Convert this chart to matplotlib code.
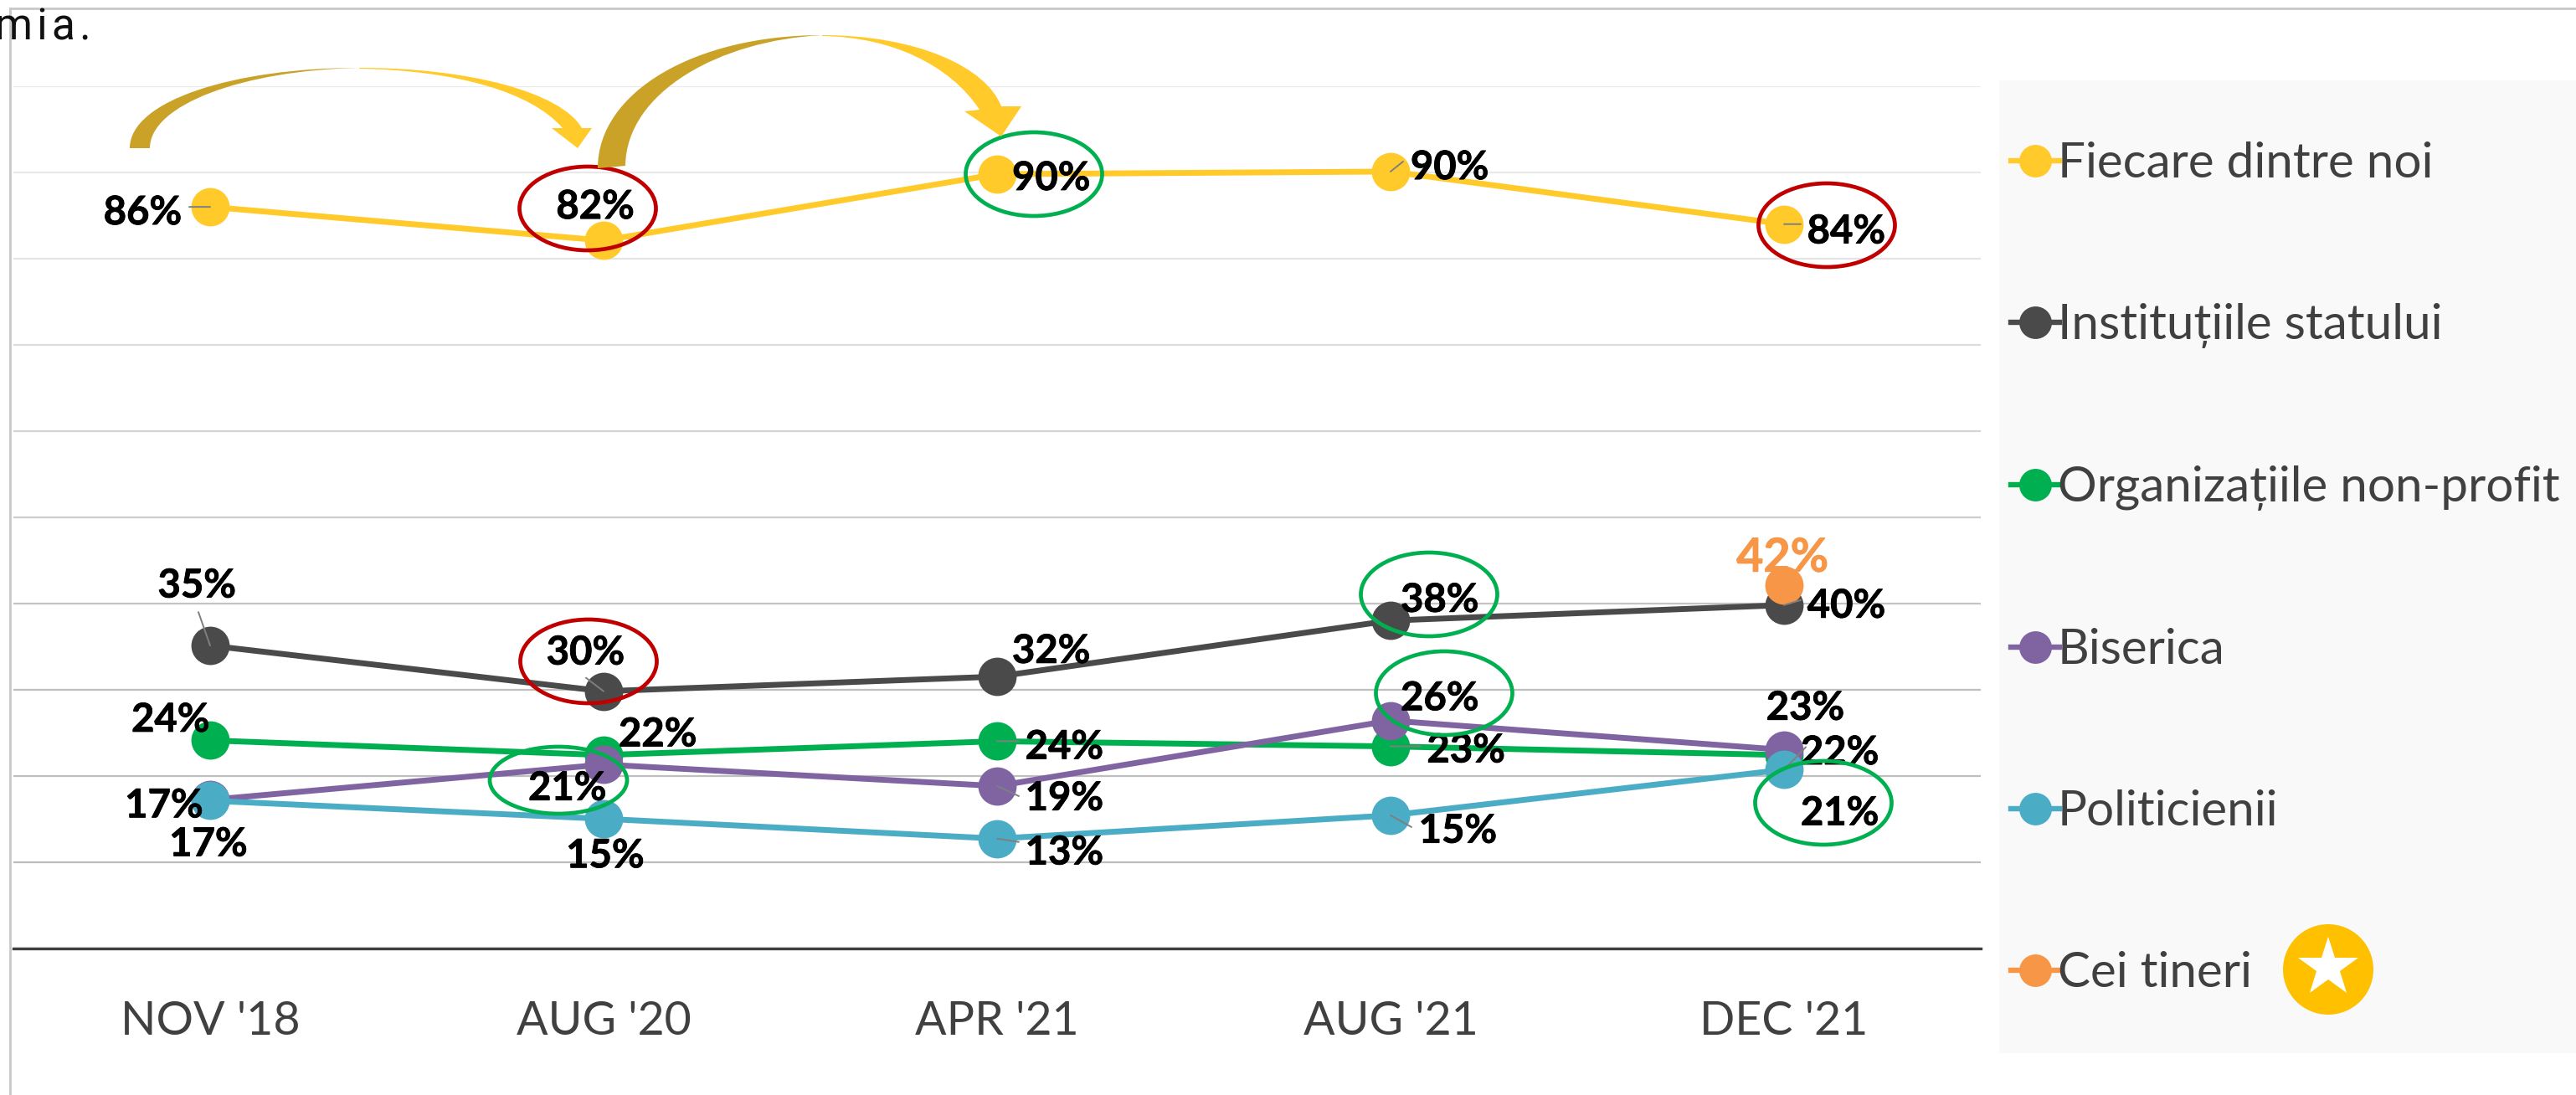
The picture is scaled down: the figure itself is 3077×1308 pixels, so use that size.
import matplotlib
matplotlib.use("Agg")
import matplotlib.pyplot as plt
import matplotlib.patheffects as pe
from matplotlib.lines import Line2D
from matplotlib.patches import Ellipse, PathPatch, Rectangle, Circle
from matplotlib.path import Path

W, H = 3077, 1308
plt.rcParams['font.family'] = ['Lato', 'DejaVu Sans']

categories = ["NOV '18", "AUG '20", "APR '21", "AUG '21", "DEC '21"]
fiecare = [86.0, 82.1, 89.8, 90.1, 84.0]
institutii = [35.1, 29.8, 31.5, 38.0, 39.8]
organizatii = [24.1, 22.4, 24.0, 23.4, 22.4]
biserica = [17.2, 21.3, 18.8, 26.4, 23.0]
politicieni = [17.1, 15.0, 12.7, 15.4, 20.7]
tineri = [None, None, None, None, 42.1]
names = ["Fiecare dintre noi", "Instituțiile statului", "Organizațiile non-profit",
         "Biserica", "Politicienii", "Cei tineri"]
colors = ["#FFCA2A", "#4A4A4A", "#00B050", "#8064A2", "#4BACC6", "#F79646"]
all_series = [fiecare, institutii, organizatii, biserica, politicieni, tineri]

# label offsets from each point, in pixels (dx right, dy up)
S = 1.962
label_off = [
    [(-41, -2), (-5, 22), (33, -1), (36, 4), (38, -3)],
    [(-8, 38), (-11, 25), (33, 17), (30, 14), (38, 1)],
    [(-24, 14), (33, 14), (41, -2), (46, -1), (34, 3)],
    [(-28, -2), (-22, -13), (41, -6), (30, 15), (13, 27)],
    [(-1, -25), (1, -21), (41, -7), (41, -8), (34, -25)],
    [None, None, None, None, (-1, 18)],
]
# short grey leader lines: series, category, end offset in pixels (dx right, dy up)
leaders = [(0, 0, -25, 0), (0, 3, 15, 12), (0, 4, 20, 0), (1, 0, -14, 40), (1, 1, -21, 16),
           (1, 4, 20, 6), (2, 2, 26, 0), (2, 3, 36, 0), (3, 2, 26, -12), (4, 2, 26, -4),
           (4, 3, 25, -14), (4, 4, 26, 27)]

fig = plt.figure(figsize=(W / 100, H / 100), dpi=100, facecolor="white")

# legend panel
fig.add_artist(Rectangle((2388 / W, 1 - 1258 / H), (W - 2388) / W, (1258 - 96) / H,
                         transform=fig.transFigure, fc="#F9F9F9", ec="none", zorder=-5))

ax = fig.add_axes([16 / W, 1 - 1132.5 / H, (2366 - 16) / W, (1132.5 - 103) / H])
ax.set_facecolor("none")
ax.set_xlim(-0.5, 4.5)
ax.set_ylim(0, 100)
ax.set_yticks(range(0, 101, 10))
ax.set_yticklabels([])
ax.set_xticks(range(5))
ax.set_xticklabels(categories, fontsize=40, color="#404040")
ax.tick_params(length=0, pad=45)
for s in ["top", "left", "right"]:
    ax.spines[s].set_visible(False)
ax.spines["bottom"].set_color("#404040")
ax.spines["bottom"].set_linewidth(2.4)
ax.set_axisbelow(True)
ax.grid(axis="y", linewidth=1.6)
grid_cols = ["#404040", "#BDBDBD", "#BFBFBF", "#BFBFBF", "#C4C4C4", "#CCCCCC",
             "#D4D4D4", "#DCDCDC", "#E4E4E4", "#E9E9E9", "#EBEBEB"]
for gl, c in zip(ax.get_ygridlines(), grid_cols):
    gl.set_color(c)

handles = []
for i, (vals, name, col) in enumerate(zip(all_series, names, colors)):
    xs = [k for k, v in enumerate(vals) if v is not None]
    ys = [vals[k] for k in xs]
    ax.plot(xs, ys, color=col, lw=5, marker="o", ms=33, mew=0, zorder=3 + i * 0.1,
            solid_capstyle="round", clip_on=False)
    handles.append(Line2D([0], [0], color=col, lw=4.6, marker="o", ms=28, mew=0))

for si, ci, dx, dy in leaders:
    ax.annotate("", xy=(ci, all_series[si][ci]), xytext=(dx, dy), textcoords="offset pixels",
                arrowprops=dict(arrowstyle="-", color="#7F7F7F", lw=1.4, shrinkA=0, shrinkB=0),
                zorder=4)

for vals, offs, col in zip(all_series, label_off, colors):
    for k, v in enumerate(vals):
        if v is None:
            continue
        orange = col == "#F79646"
        tc = col if orange else "black"
        t = ax.annotate(f"{round(v)}%", xy=(k, v),
                        xytext=(offs[k][0] * S, offs[k][1] * S - 3), textcoords="offset pixels",
                        ha="center", va="center", fontweight="bold",
                        fontsize=40 if orange else 34, color=tc, zorder=5)
        t.set_path_effects([pe.withStroke(linewidth=0.6, foreground=tc)])

ax.legend(handles, names, loc="upper left", bbox_to_anchor=(2402 / W, 1 - 169 / H),
          bbox_transform=fig.transFigure, frameon=False, fontsize=42, labelcolor="#404040",
          handlelength=0.99, handletextpad=-0.03, labelspacing=2.40, borderpad=0, borderaxespad=0)

# overlay in pixel coordinates for annotation shapes
ov = fig.add_axes([0, 0, 1, 1], zorder=10)
ov.set_xlim(0, W)
ov.set_ylim(H, 0)
ov.axis("off")
ov.patch.set_alpha(0)

ov.add_line(Line2D([12, W], [10, 10], color="#C8C8C8", lw=2))
ov.add_line(Line2D([12, 12], [10, H], color="#C8C8C8", lw=2))

RED, GREEN = "#C00000", "#00B050"
ellipses = [(702, 249, 163, 100, RED), (1235, 208, 163, 100, GREEN), (2182, 269, 163, 100, RED),
            (1707, 710, 163, 100, GREEN), (703, 790, 163, 100, RED), (1725, 828, 163, 100, GREEN),
            (667, 932, 164, 80, GREEN), (2178, 959, 163, 100, GREEN)]
for cx, cy, w, h, c in ellipses:
    ov.add_patch(Ellipse((cx, cy), w, h, fc="none", ec=c, lw=3.4))

C4, L, M = Path.CURVE4, Path.LINETO, Path.MOVETO
GOLD, YEL = "#C9A227", "#FFCA2A"
def shape(verts, codes, col):
    ov.add_patch(PathPatch(Path(verts + [verts[0]], codes + [Path.CLOSEPOLY]), fc=col, ec="none"))

shape([(155, 177), (155, 120), (280, 81), (429, 81), (290, 84), (179, 125), (179, 177)],
      [M, C4, C4, C4, C4, C4, C4], GOLD)
shape([(429, 81), (560, 81), (670, 110), (695, 153), (707, 153), (690, 177), (659, 153), (672, 153),
       (635, 110), (545, 84), (429, 82)],
      [M, C4, C4, C4, L, L, L, L, C4, C4, C4], YEL)
shape([(714, 201), (714, 110), (830, 42), (982, 42), (860, 48), (748, 110), (747, 198)],
      [M, C4, C4, C4, C4, C4, C4], GOLD)
shape([(982, 42), (1095, 42), (1178, 80), (1196, 127), (1220, 127), (1196, 163), (1152, 133), (1170, 131),
       (1135, 78), (1065, 44), (982, 43)],
      [M, C4, C4, C4, L, L, L, L, C4, C4, C4], YEL)

# star badge
ov.add_patch(Circle((2781, 1158), 54, fc="#FFC000", ec="none"))
ov.plot([2781], [1156], marker="*", ms=54, mfc="white", mec="white", mew=0)

fig.text(-6 / W, 1 - 48 / H, "m\u200ai\u200aa\u200a.", fontsize=37, color="#111111",
         family=["Roboto", "DejaVu Sans"], va="baseline", ha="left", zorder=20)

fig.savefig("out.png", dpi=100, facecolor="white")
